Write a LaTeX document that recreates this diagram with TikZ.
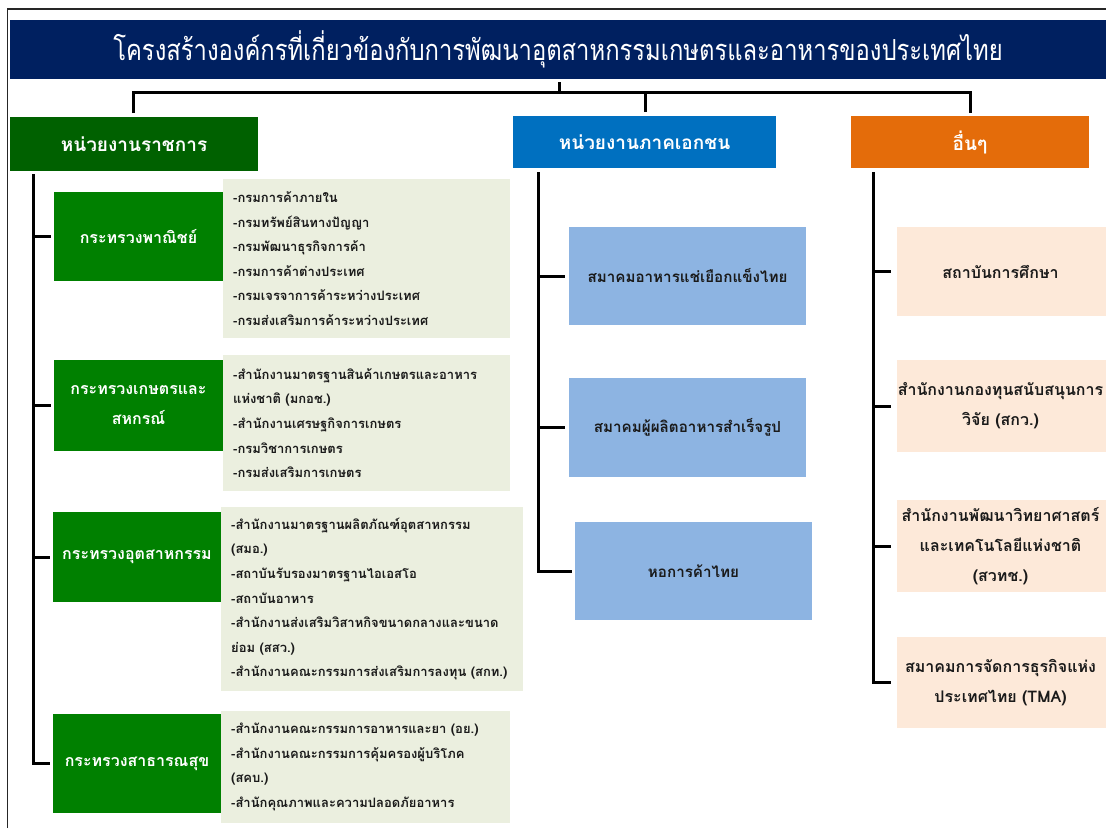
\documentclass[tikz,border=0pt]{standalone}
\usepackage{fontspec}
\newfontfamily\thai[Script=Thai]{Loma}
\newfontfamily\thaititle[Script=Thai,FakeStretch=0.82]{Loma}
\usetikzlibrary{calc}
\definecolor{navy}{HTML}{002060}
\definecolor{govhd}{HTML}{006100}
\definecolor{mingreen}{HTML}{008000}
\definecolor{detfill}{HTML}{EBEFDF}
\definecolor{privhd}{HTML}{0070C0}
\definecolor{privbox}{HTML}{8DB4E2}
\definecolor{othhd}{HTML}{E46C0A}
\definecolor{othbox}{HTML}{FDE9D9}
\definecolor{txt}{HTML}{1A1A1A}
\tikzset{
  bx/.style={rectangle, inner sep=0pt, outer sep=0pt, anchor=north west, align=center},
  conn/.style={line width=3pt, black},
  hdtext/.style={text=white, font=\thai\bfseries\fontsize{19}{24}\selectfont},
  mintext/.style={text=white, font=\thai\bfseries\fontsize{16}{30}\selectfont},
  dettext/.style={text=txt, font=\thai\bfseries\fontsize{13}{24.6}\selectfont, align=left, anchor=west, inner sep=0pt},
  privtext/.style={text=txt, font=\thai\bfseries\fontsize{15.2}{30}\selectfont},
  othtext/.style={text=txt, font=\thai\bfseries\fontsize{16}{30}\selectfont},
}
\begin{document}
\begin{tikzpicture}[x=1pt,y=-1pt]
\useasboundingbox (0,0) rectangle (1106,828);
\fill[white] (0,0) rectangle (1106,828);
% frame
\draw[line width=1.3pt, black!85] (7.5,828) -- (7.5,9) -- (1106,9);
% title
\node[bx, fill=navy, minimum width=1100pt, minimum height=59pt] (title) at (10,20) {};
\node[text=white, font=\thaititle\fontsize{29}{34}\selectfont, inner sep=0pt] (titletxt) at (558,49) {โครงสร้างองค์กรที่เกี่ยวข้องกับการพัฒนาอุตสาหกรรมเกษตรและอาหารของประเทศไทย};
% headers
\node[bx, fill=govhd, minimum width=248pt, minimum height=54pt, hdtext] (hg) at (10,117) {};
\node[hdtext] (hgt) at (hg.center) {หน่วยงานราชการ};
\node[bx, fill=privhd, minimum width=263pt, minimum height=52pt] (hp) at (513,116) {};
\node[hdtext] (hpt) at (hp.center) {หน่วยงานภาคเอกชน};
\node[bx, fill=othhd, minimum width=238pt, minimum height=52pt] (ho) at (851,116) {};
\node[hdtext] (hot) at (ho.center) {อื่นๆ};
% top connectors
\coordinate (ts) at (559,82);
\coordinate (tj) at (559,92);
\coordinate (gA) at (133,113);
\coordinate (pA) at (645,112);
\coordinate (oA) at (970,113);
\coordinate (hr) at (970,92);
\draw[conn] (ts) -- (tj);
\draw[conn] (gA) |- (hr) -- (oA);
\draw[conn] (pA) -- (pA |- tj);
% government column
\node[bx, fill=mingreen, minimum width=169pt, minimum height=89pt] (m1) at (54,192) {};
\node[mintext] (m1t) at (m1.center) {กระทรวงพาณิชย์};
\node[bx, fill=detfill, minimum width=287pt, minimum height=159pt] (d1) at (223,179) {};
\node[dettext] (d1t) at ([xshift=10pt]d1.west) {-กรมการค้าภายใน\\-กรมทรัพย์สินทางปัญญา\\-กรมพัฒนาธุรกิจการค้า\\-กรมการค้าต่างประเทศ\\-กรมเจรจาการค้าระหว่างประเทศ\\-กรมส่งเสริมการค้าระหว่างประเทศ};

\node[bx, fill=mingreen, minimum width=169pt, minimum height=91pt] (m2) at (54,360) {};
\node[mintext, align=center] (m2t) at (m2.center) {กระทรวงเกษตรและ\\สหกรณ์};
\node[bx, fill=detfill, minimum width=287pt, minimum height=136pt] (d2) at (223,355) {};
\node[dettext] (d2t) at ([xshift=10pt]d2.west) {-สำนักงานมาตรฐานสินค้าเกษตรและอาหาร\\แห่งชาติ (มกอช.)\\-สำนักงานเศรษฐกิจการเกษตร\\-กรมวิชาการเกษตร\\-กรมส่งเสริมการเกษตร};

\node[bx, fill=mingreen, minimum width=168pt, minimum height=90pt] (m3) at (53,512) {};
\node[mintext] (m3t) at (m3.center) {กระทรวงอุตสาหกรรม};
\node[bx, fill=detfill, minimum width=302pt, minimum height=184pt] (d3) at (221,507) {};
\node[dettext] (d3t) at ([xshift=10pt]d3.west) {-สำนักงานมาตรฐานผลิตภัณฑ์อุตสาหกรรม\\(สมอ.)\\-สถาบันรับรองมาตรฐานไอเอสโอ\\-สถาบันอาหาร\\-สำนักงานส่งเสริมวิสาหกิจขนาดกลางและขนาด\\ย่อม (สสว.)\\-สำนักงานคณะกรรมการส่งเสริมการลงทุน (สกท.)};

\node[bx, fill=mingreen, minimum width=168pt, minimum height=99pt] (m4) at (53,714) {};
\node[mintext] (m4t) at (m4.center) {กระทรวงสาธารณสุข};
\node[bx, fill=detfill, minimum width=289pt, minimum height=112pt] (d4) at (221,711) {};
\node[dettext] (d4t) at ([xshift=10pt]d4.west) {-สำนักงานคณะกรรมการอาหารและยา (อย.)\\-สำนักงานคณะกรรมการคุ้มครองผู้บริโภค\\(สคบ.)\\-สำนักคุณภาพและความปลอดภัยอาหาร};

\coordinate (gt) at (33,174);
\draw[conn] (gt) -- (gt |- m4.west) -- ([xshift=-3pt]m4.west);
\draw[conn] (gt |- m1.west) -- ([xshift=-3pt]m1.west);
\draw[conn] (gt |- m2.west) -- ([xshift=-3pt]m2.west);
\draw[conn] (gt |- m3.west) -- ([xshift=-3pt]m3.west);

% private column
\node[bx, fill=privbox, minimum width=237pt, minimum height=98pt] (p1) at (569,227) {};
\node[privtext] (p1t) at (p1.center) {สมาคมอาหารแช่เยือกแข็งไทย};
\node[bx, fill=privbox, minimum width=237pt, minimum height=99pt] (p2) at (569,378) {};
\node[privtext] (p2t) at (p2.center) {สมาคมผู้ผลิตอาหารสำเร็จรูป};
\node[bx, fill=privbox, minimum width=237pt, minimum height=98pt] (p3) at (575,522) {};
\node[privtext] (p3t) at (p3.center) {หอการค้าไทย};
\coordinate (pt) at (538,172);
\draw[conn] (pt) -- (pt |- p3.west) -- ([xshift=-3pt]p3.west);
\draw[conn] (pt |- p1.west) -- ([xshift=-4pt]p1.west);
\draw[conn] (pt |- p2.west) -- ([xshift=-4pt]p2.west);

% other column
\node[bx, fill=othbox, minimum width=213pt, minimum height=89pt] (o1) at (897,227) {};
\node[othtext] (o1t) at ([xshift=-3pt]o1.center) {สถาบันการศึกษา};
\node[bx, fill=othbox, minimum width=213pt, minimum height=92pt] (o2) at (897,360) {};
\node[othtext, align=center] (o2t) at ([xshift=-3pt]o2.center) {สำนักงานกองทุนสนับสนุนการ\\วิจัย (สกว.)};
\node[bx, fill=othbox, minimum width=213pt, minimum height=92pt] (o3) at (897,500) {};
\node[othtext, align=center] (o3t) at ([xshift=-3pt]o3.center) {สำนักงานพัฒนาวิทยาศาสตร์\\และเทคโนโลยีแห่งชาติ\\(สวทช.)};
\node[bx, fill=othbox, minimum width=213pt, minimum height=91pt] (o4) at (897,637) {};
\node[othtext, align=center] (o4t) at ([xshift=-3pt]o4.center) {สมาคมการจัดการธุรกิจแห่ง\\ประเทศไทย (TMA)};
\coordinate (ot) at (873,172);
\draw[conn] (ot) -- (ot |- o4.west) -- ([xshift=-6pt]o4.west);
\draw[conn] (ot |- o1.west) -- ([xshift=-6pt]o1.west);
\draw[conn] (ot |- o2.west) -- ([xshift=-6pt]o2.west);
\draw[conn] (ot |- o3.west) -- ([xshift=-6pt]o3.west);
\end{tikzpicture}
\end{document}
